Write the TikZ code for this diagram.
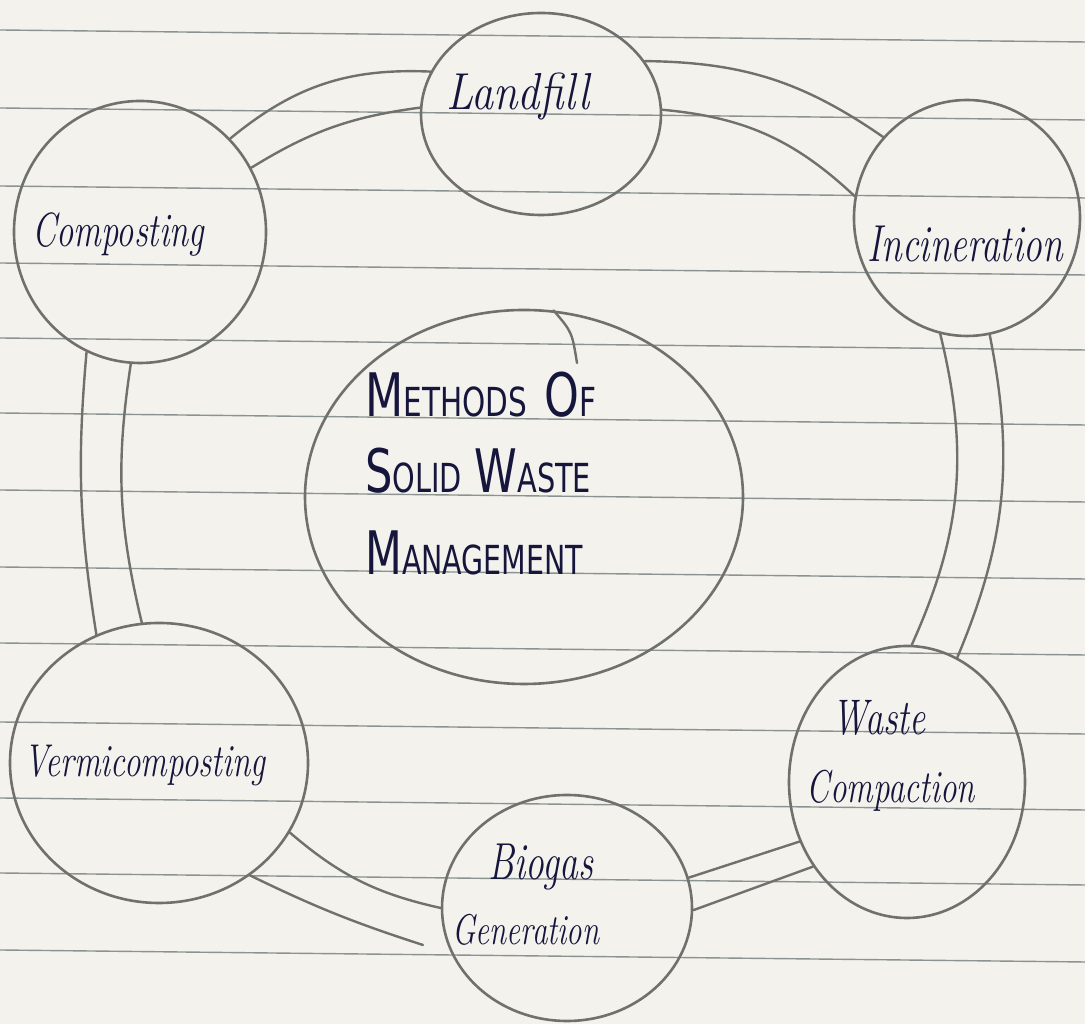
\documentclass[tikz,border=0pt]{standalone}
\usepackage{fontspec}
\usepackage{graphicx}
\newfontfamily\capsfont{DejaVu Sans Condensed}
\usetikzlibrary{shapes.geometric}
\definecolor{paper}{RGB}{244,242,237}
\definecolor{ruling}{RGB}{112,124,122}
\definecolor{pencil}{RGB}{112,112,108}
\definecolor{ink}{RGB}{22,22,60}
\newcommand\capsword[2]{{\fontsize{60}{60}\selectfont #1}{\fontsize{40}{40}\selectfont #2}}
\newcommand\squeeze[2]{\scalebox{#1}[1]{#2}}
\begin{document}
\begin{tikzpicture}[x=1pt,y=1pt,
  bubble/.style 2 args={ellipse, draw=pencil, line width=2.6pt, inner sep=0pt,
    minimum width=#1, minimum height=#2},
  link/.style={draw=pencil, line width=2.4pt, line cap=round},
  hand/.style={text=ink, inner sep=0pt, anchor=base},
  caps/.style={text=ink, inner sep=0pt, anchor=base west, font=\capsfont}]
\fill[paper] (0,0) rectangle (1085,1024);
\useasboundingbox (0,0) rectangle (1085,1024);
% ruled paper
\foreach \yy in {30,108,186,263,338,413,490,567,643,722,798,873,950}
  \draw[ruling, line width=1.4pt, opacity=0.8] (0,{1024-\yy}) -- (1085,{1012-\yy});
% bubbles
\node[bubble={240pt}{202pt}] (land) at (541,910) {};
\node[bubble={252pt}{262pt}] (comp) at (140,792) {};
\node[bubble={226pt}{236pt}] (inc)  at (967,806) {};
\node[bubble={438pt}{374pt}] (ctr)  at (524,527) {};
\node[bubble={236pt}{272pt}] (wc)   at (907,242) {};
\node[bubble={250pt}{226pt}] (bio)  at (567,116) {};
\node[bubble={298pt}{280pt}] (verm) at (159,261) {};
% free ends
\coordinate (vbend) at (423,79);
\coordinate (tickend) at (577,661);
% connecting bands
\draw[link] (comp.46) to[bend left=21] (land.159);
\draw[link] (comp.30) to[bend left=12] (land.177);
\draw[link] (land.27) to[bend left=17] (inc.136);
\draw[link] (land.2) to[bend left=19] (inc.169);
\draw[link] (inc.257) to[bend left=19] (wc.88);
\draw[link] (inc.281) to[bend left=17] (wc.68);
\draw[link] (comp.246) to[bend right=7] (verm.116);
\draw[link] (comp.266) to[bend right=11] (verm.97);
\draw[link] (verm.332) to[bend right=14] (bio.180);
\draw[link] (verm.309) to[bend right=4] (vbend);
\draw[link] (bio.14) -- (wc.209);
\draw[link] (bio.359) -- (wc.222);
\draw[link] (ctr.81) .. controls (572,692) .. (tickend);
% labels
\node[hand, font=\itshape\fontsize{52}{56}\selectfont] (landT) at (518,914) {\squeeze{0.85}{Landfill}};
\node[hand, font=\itshape\fontsize{48}{52}\selectfont] (compT) at (118,777) {\squeeze{0.72}{Composting}};
\node[hand, font=\itshape\fontsize{52}{56}\selectfont] (incT) at (965,762) {\squeeze{0.72}{Incineration}};
\node[hand, font=\itshape\fontsize{46}{50}\selectfont] (vermT) at (145,247) {\squeeze{0.72}{Vermicomposting}};
\node[hand, font=\itshape\fontsize{50}{54}\selectfont] (wcA) at (879,289) {\squeeze{0.72}{Waste}};
\node[hand, font=\itshape\fontsize{46}{50}\selectfont] (wcB) at (891,221) {\squeeze{0.72}{Compaction}};
\node[hand, font=\itshape\fontsize{52}{56}\selectfont] (bioA) at (541,144) {\squeeze{0.72}{Biogas}};
\node[hand, font=\itshape\fontsize{43}{48}\selectfont] (bioB) at (526,79) {\squeeze{0.72}{Generation}};
\node[caps] (ctrA) at (365,607) {\squeeze{0.82}{\capsword{M}{ETHODS}\hspace{22pt}\capsword{O}{F}}};
\node[caps] (ctrB) at (365,531) {\squeeze{0.8}{\capsword{S}{OLID}\hspace{16pt}\capsword{W}{ASTE}}};
\node[caps] (ctrC) at (365,449) {\squeeze{0.79}{\capsword{M}{ANAGEMENT}}};
\end{tikzpicture}
\end{document}
